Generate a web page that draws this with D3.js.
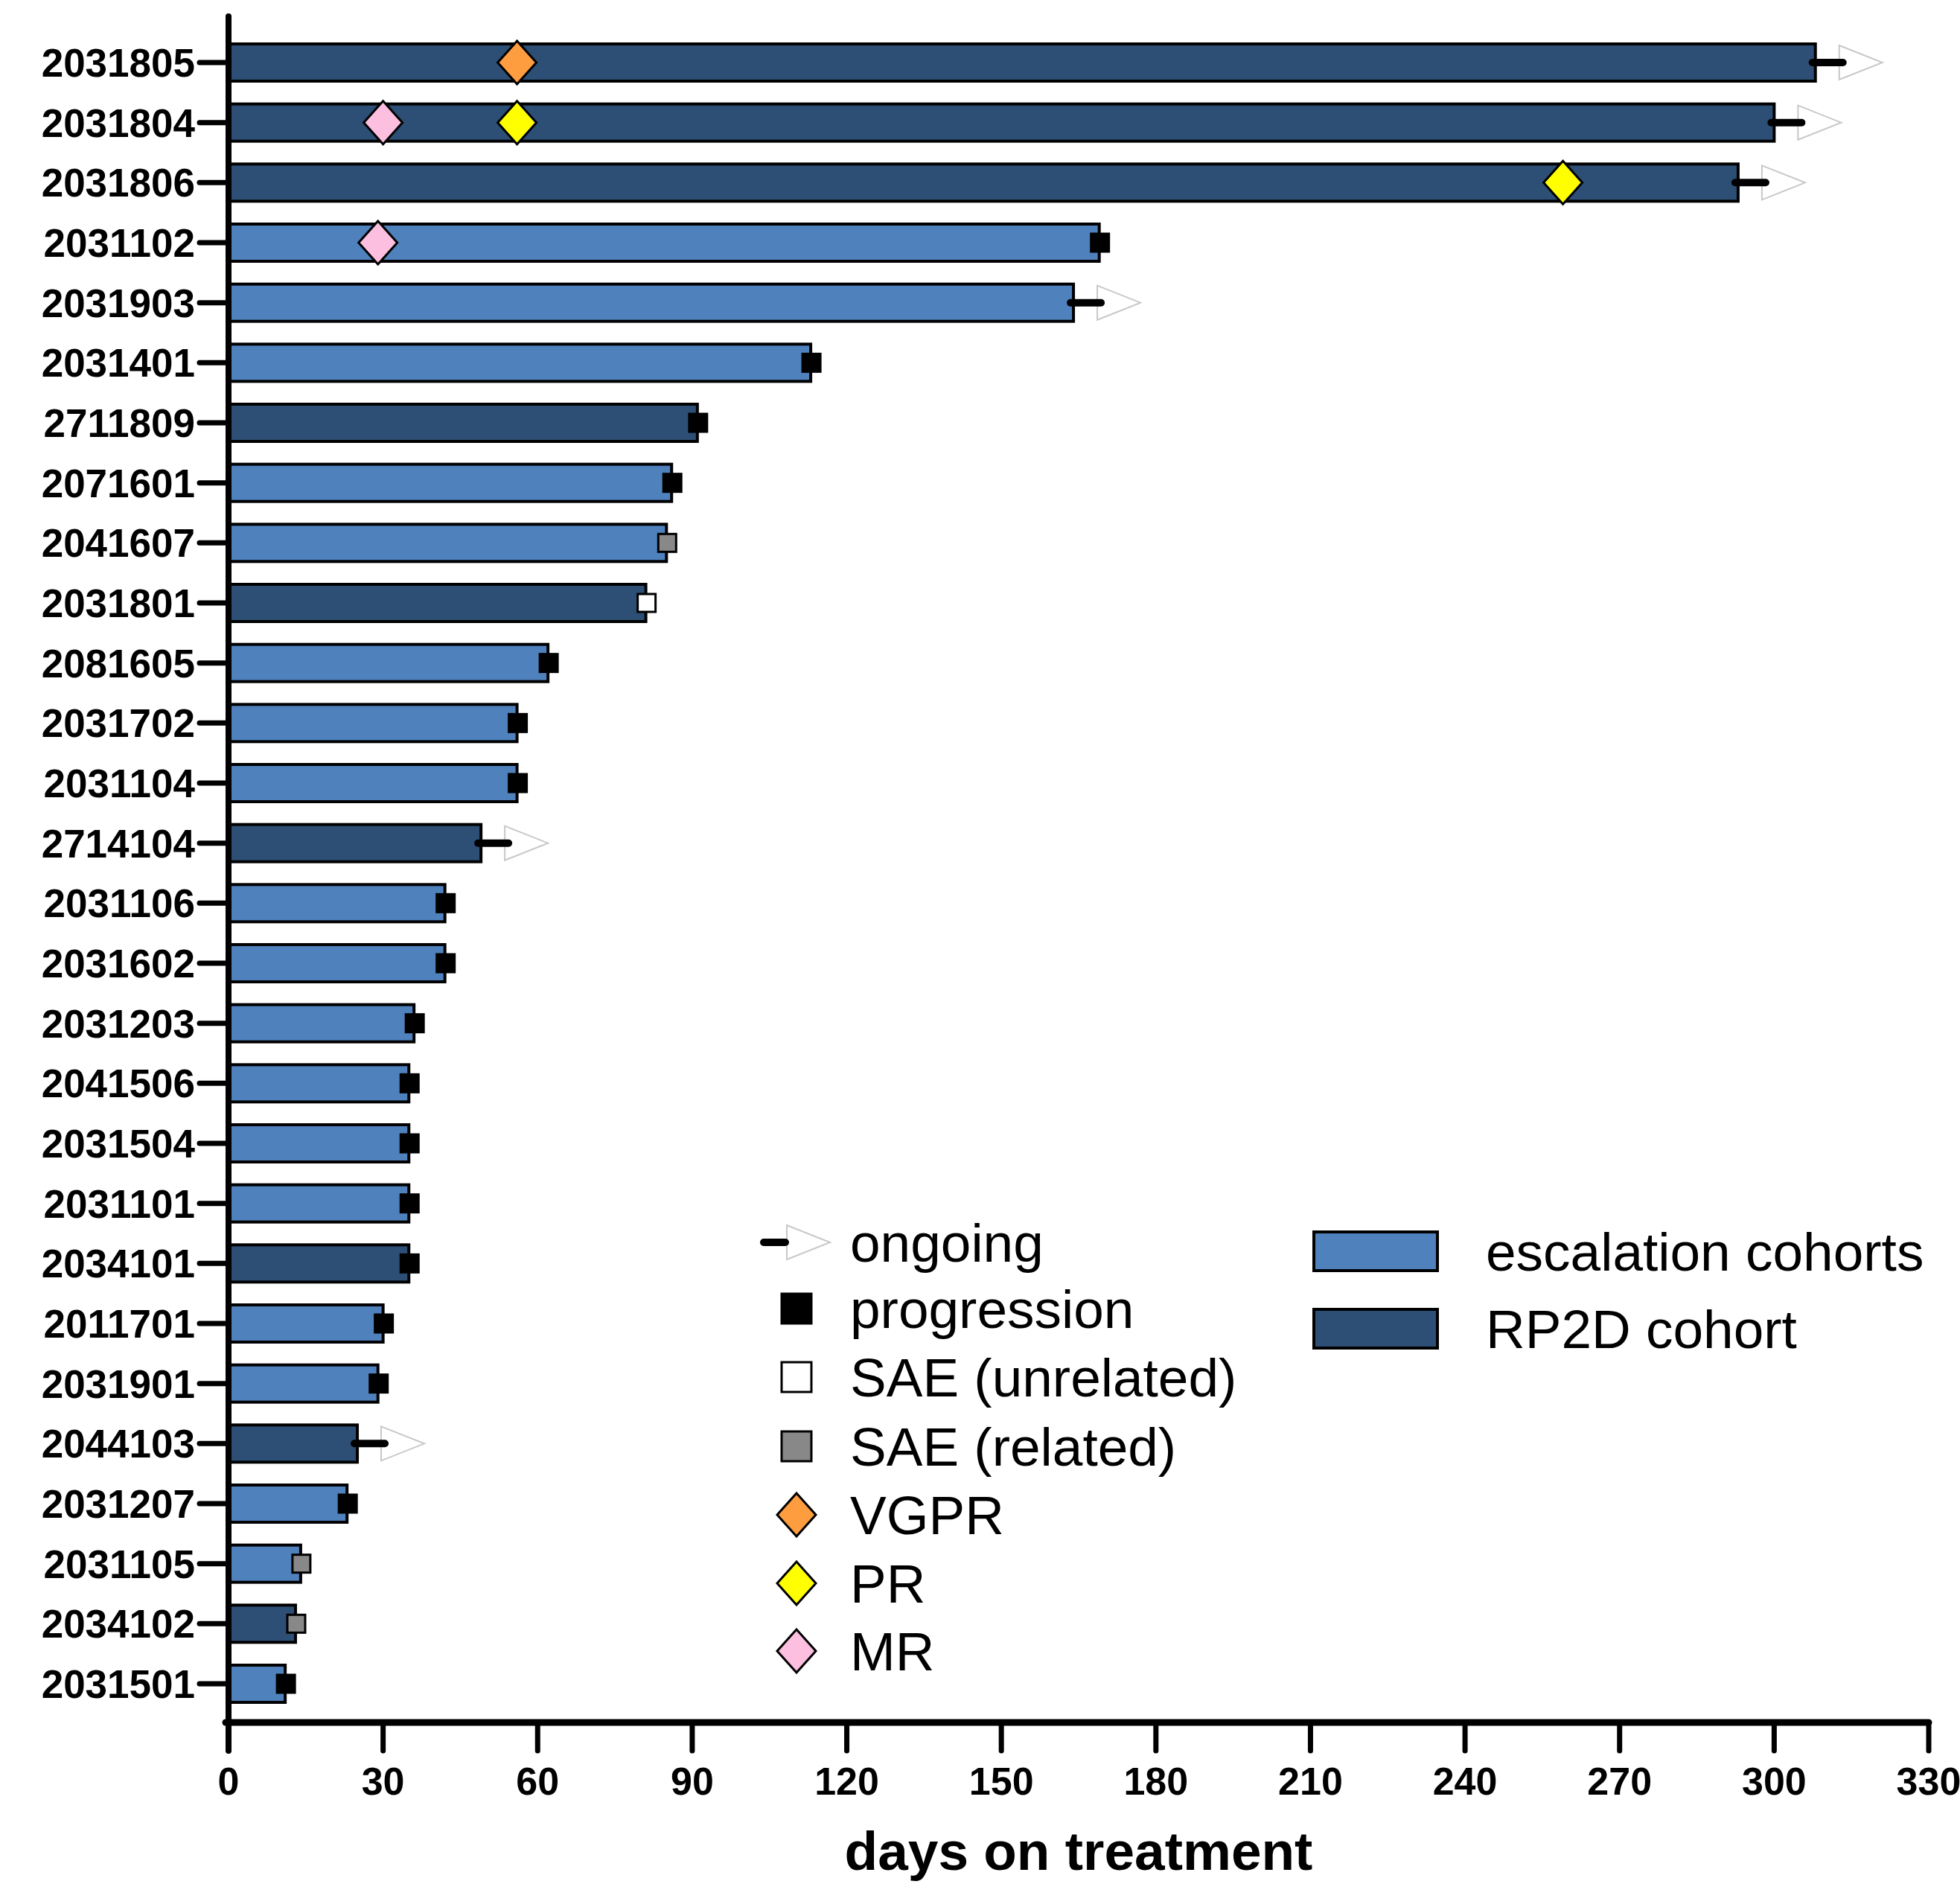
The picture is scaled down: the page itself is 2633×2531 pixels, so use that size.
<!DOCTYPE html>
<html><head><meta charset="utf-8">
<script src="https://cdn.jsdelivr.net/npm/d3@7"></script>
<style>body{margin:0;background:#fff}svg{display:block}</style>
</head><body>
<svg id="c" width="2633" height="2531"></svg>
<script>
const patients = ["2031805","2031804","2031806","2031102","2031903","2031401","2711809","2071601","2041607","2031801","2081605","2031702","2031104","2714104","2031106","2031602","2031203","2041506","2031504","2031101","2034101","2011701","2031901","2044103","2031207","2031105","2034102","2031501"];
const daysOnTreatment = [308,300,293,169,164,113,91,86,85,81,62,56,56,49,42,42,36,35,35,35,35,30,29,25,23,14,13,11];
const cohort = ["RP2D","RP2D","RP2D","esc","esc","esc","RP2D","esc","esc","RP2D","esc","esc","esc","RP2D","esc","esc","esc","esc","esc","esc","RP2D","esc","esc","RP2D","esc","esc","RP2D","esc"];
const outcome = ["ongoing","ongoing","ongoing","progression","ongoing","progression","progression","progression","saeRelated","saeUnrelated","progression","progression","progression","ongoing","progression","progression","progression","progression","progression","progression","progression","progression","progression","ongoing","progression","saeRelated","saeRelated","progression"];
const responsePatient = ["2031805","2031804","2031804","2031806","2031102"];
const responseType = ["VGPR","MR","PR","PR","MR"];
const responseDay = [56,30,56,259,29];
const xTicks = [0,30,60,90,120,150,180,210,240,270,300,330];
const markerLegend = ["ongoing","progression","SAE (unrelated)","SAE (related)","VGPR","PR","MR"];
const cohortLegend = ["escalation cohorts","RP2D cohort"];

const cohortColor = {esc:"#4f81bd", RP2D:"#2d4f75"};
const responseColor = {VGPR:"#fd9d3f", PR:"#ffff00", MR:"#fcbfdf"};
const squareFill = {progression:"#000", saeUnrelated:"#fff", saeRelated:"#888"};

const svg = d3.select("#c");
const font = "'Liberation Sans', Arial, sans-serif";
const x = d3.scaleLinear().domain([0,330]).range([307,2591]);
const y = d3.scalePoint().domain(patients).range([84,2262]);
const barH = 50;
const axisY = 2314;

const rows = patients.map((p,i)=>({id:p, days:daysOnTreatment[i], cohort:cohort[i], outcome:outcome[i]}));

// bars
svg.append("g").selectAll("rect").data(rows).join("rect")
  .attr("x", x(0)).attr("y", d=>y(d.id)-barH/2)
  .attr("width", d=>x(d.days)-x(0)).attr("height", barH)
  .attr("fill", d=>cohortColor[d.cohort]).attr("stroke","#000").attr("stroke-width",4);

// ongoing arrows
function ongoing(g, x0, cy){
  g.append("path").attr("d", `M${x0+32},${cy-23}L${x0+90},${cy}L${x0+32},${cy+23}Z`)
    .attr("fill","#fff").attr("stroke","#c8c8c8").attr("stroke-width",2);
  g.append("line").attr("x1",x0-4).attr("x2",x0+37).attr("y1",cy).attr("y2",cy)
    .attr("stroke","#000").attr("stroke-width",10).attr("stroke-linecap","round");
}
const gm = svg.append("g");
rows.forEach(d=>{
  if(d.outcome==="ongoing") ongoing(gm, x(d.days), y(d.id));
  else {
    const s = 24;
    gm.append("rect").attr("x", x(d.days)-s/2+1).attr("y", y(d.id)-s/2).attr("width",s).attr("height",s)
      .attr("fill", squareFill[d.outcome]).attr("stroke","#000").attr("stroke-width",3);
  }
});

// diamonds
function diamond(g, cx, cy, fill){
  const w=26, h=29;
  g.append("path").attr("d",`M${cx},${cy-h}L${cx+w},${cy}L${cx},${cy+h}L${cx-w},${cy}Z`)
    .attr("fill",fill).attr("stroke","#000").attr("stroke-width",3).attr("stroke-linejoin","miter");
}
responsePatient.forEach((p,i)=> diamond(gm, x(responseDay[i]), y(p), responseColor[responseType[i]]));

// axes
const ga = svg.append("g");
ga.append("line").attr("x1",307).attr("x2",307).attr("y1",22).attr("y2",axisY+38)
  .attr("stroke","#000").attr("stroke-width",8).attr("stroke-linecap","round");
ga.append("line").attr("x1",303).attr("x2",x(330)).attr("y1",axisY).attr("y2",axisY)
  .attr("stroke","#000").attr("stroke-width",9).attr("stroke-linecap","round");
// x ticks
ga.selectAll(".xt").data(xTicks).join("line").attr("class","xt")
  .attr("x1",d=>x(d)).attr("x2",d=>x(d)).attr("y1",axisY).attr("y2",axisY+38)
  .attr("stroke","#000").attr("stroke-width",7).attr("stroke-linecap","round");
ga.selectAll(".xl").data(xTicks).join("text").attr("class","xl")
  .attr("x",d=>x(d)).attr("y",axisY+97).attr("text-anchor","middle")
  .attr("font-family",font).attr("font-weight","bold").attr("font-size",52).text(d=>d);
// y ticks
ga.selectAll(".yt").data(patients).join("line").attr("class","yt")
  .attr("x1",268).attr("x2",307).attr("y1",d=>y(d)).attr("y2",d=>y(d))
  .attr("stroke","#000").attr("stroke-width",7).attr("stroke-linecap","round");
ga.selectAll(".yl").data(patients).join("text").attr("class","yl")
  .attr("x",262).attr("y",d=>y(d)).attr("dy","0.36em").attr("text-anchor","end")
  .attr("font-family",font).attr("font-weight","bold").attr("font-size",53).text(d=>d);
// x title
svg.append("text").attr("x",(x(0)+x(330))/2).attr("y",2512).attr("text-anchor","middle")
  .attr("font-family",font).attr("font-weight","bold").attr("font-size",73).text("days on treatment");

// legend - markers
const gl = svg.append("g");
const legY = [1669,1758,1850,1943,2035,2127,2218];
const mx = 1070;
markerLegend.forEach((lab,i)=>{
  const cy = legY[i];
  if(i===0){
    gl.append("path").attr("d",`M${mx-13},${cy-23}L${mx+45},${cy}L${mx-13},${cy+23}Z`)
      .attr("fill","#fff").attr("stroke","#c8c8c8").attr("stroke-width",2);
    gl.append("line").attr("x1",mx-44).attr("x2",mx-15).attr("y1",cy).attr("y2",cy)
      .attr("stroke","#000").attr("stroke-width",10).attr("stroke-linecap","round");
  } else if(i<=3){
    const f = ["#000","#fff","#888"][i-1];
    gl.append("rect").attr("x",mx-20).attr("y",cy-20).attr("width",40).attr("height",40)
      .attr("fill",f).attr("stroke","#000").attr("stroke-width",3);
  } else {
    diamond(gl, mx, cy, responseColor[["VGPR","PR","MR"][i-4]]);
  }
  gl.append("text").attr("x",1142).attr("y",cy).attr("dy","0.36em")
    .attr("font-family",font).attr("font-size",73).text(lab);
});
// legend - cohorts
const cY = [1681,1785];
cohortLegend.forEach((lab,i)=>{
  gl.append("rect").attr("x",1765).attr("y",cY[i]-26).attr("width",166).attr("height",52)
    .attr("fill",[cohortColor.esc,cohortColor.RP2D][i]).attr("stroke","#000").attr("stroke-width",4);
  gl.append("text").attr("x",1996).attr("y",cY[i]).attr("dy","0.36em")
    .attr("font-family",font).attr("font-size",73).text(lab);
});
</script>
</body></html>
